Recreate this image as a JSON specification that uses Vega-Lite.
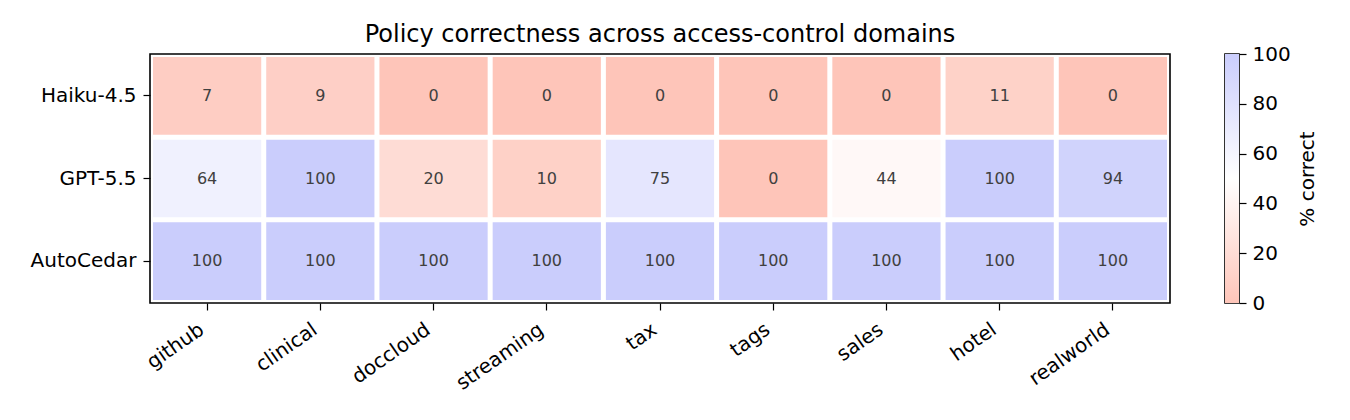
{
  "$schema": "https://vega.github.io/schema/vega-lite/v6.json",
  "background": "white",
  "padding": {"left": 29, "top": 22, "right": 5, "bottom": 5},
  "config": {
    "font": "DejaVu Sans",
    "view": {"stroke": "black", "strokeWidth": 1.6},
    "axis": {
      "domain": false,
      "grid": false,
      "tickColor": "black",
      "tickSize": 7,
      "tickWidth": 1.2,
      "labelColor": "black",
      "labelFontSize": 20,
      "labelFont": "DejaVu Sans",
      "titleFont": "DejaVu Sans",
      "titleColor": "black"
    }
  },
  "datasets": {
    "cells": [
      {"model": "Haiku-4.5", "domain": "github", "value": 7},
      {"model": "Haiku-4.5", "domain": "clinical", "value": 9},
      {"model": "Haiku-4.5", "domain": "doccloud", "value": 0},
      {"model": "Haiku-4.5", "domain": "streaming", "value": 0},
      {"model": "Haiku-4.5", "domain": "tax", "value": 0},
      {"model": "Haiku-4.5", "domain": "tags", "value": 0},
      {"model": "Haiku-4.5", "domain": "sales", "value": 0},
      {"model": "Haiku-4.5", "domain": "hotel", "value": 11},
      {"model": "Haiku-4.5", "domain": "realworld", "value": 0},
      {"model": "GPT-5.5", "domain": "github", "value": 64},
      {"model": "GPT-5.5", "domain": "clinical", "value": 100},
      {"model": "GPT-5.5", "domain": "doccloud", "value": 20},
      {"model": "GPT-5.5", "domain": "streaming", "value": 10},
      {"model": "GPT-5.5", "domain": "tax", "value": 75},
      {"model": "GPT-5.5", "domain": "tags", "value": 0},
      {"model": "GPT-5.5", "domain": "sales", "value": 44},
      {"model": "GPT-5.5", "domain": "hotel", "value": 100},
      {"model": "GPT-5.5", "domain": "realworld", "value": 94},
      {"model": "AutoCedar", "domain": "github", "value": 100},
      {"model": "AutoCedar", "domain": "clinical", "value": 100},
      {"model": "AutoCedar", "domain": "doccloud", "value": 100},
      {"model": "AutoCedar", "domain": "streaming", "value": 100},
      {"model": "AutoCedar", "domain": "tax", "value": 100},
      {"model": "AutoCedar", "domain": "tags", "value": 100},
      {"model": "AutoCedar", "domain": "sales", "value": 100},
      {"model": "AutoCedar", "domain": "hotel", "value": 100},
      {"model": "AutoCedar", "domain": "realworld", "value": 100}
    ],
    "bar": [{"lo": 0, "hi": 100}]
  },
  "spacing": 55,
  "bounds": "flush",
  "hconcat": [
    {
      "width": 1020,
      "height": 249,
      "title": {
        "text": "Policy correctness across access-control domains",
        "fontSize": 24,
        "fontWeight": "normal",
        "offset": 7,
        "anchor": "middle",
        "color": "black"
      },
      "data": {"name": "cells"},
      "encoding": {
        "x": {
          "field": "domain",
          "type": "nominal",
          "sort": ["github", "clinical", "doccloud", "streaming", "tax", "tags", "sales", "hotel", "realworld"],
          "scale": {"paddingInner": 0.0442, "paddingOuter": 0.0265},
          "axis": {
            "title": null,
            "labelAngle": -35,
            "labelAlign": "right",
            "labelBaseline": "top",
            "labelPadding": 9,
            "labelOffset": -11
          }
        },
        "y": {
          "field": "model",
          "type": "nominal",
          "sort": ["Haiku-4.5", "GPT-5.5", "AutoCedar"],
          "scale": {"paddingInner": 0.0605, "paddingOuter": 0.0363},
          "axis": {"title": null, "labelPadding": 7}
        }
      },
      "layer": [
        {
          "mark": {"type": "rect"},
          "encoding": {
            "color": {
              "field": "value",
              "type": "quantitative",
              "scale": {
                "domain": [0, 50, 100],
                "range": ["#fec5b9", "#ffffff", "#cacdfc"],
                "interpolate": "rgb"
              },
              "legend": null
            }
          }
        },
        {
          "mark": {"type": "text", "fontSize": 16, "color": "#404040"},
          "encoding": {"text": {"field": "value", "type": "quantitative"}}
        }
      ]
    },
    {
      "width": 14,
      "height": 249,
      "data": {"name": "bar"},
      "mark": {
        "type": "rect",
        "color": {
          "gradient": "linear",
          "x1": 0, "y1": 1, "x2": 0, "y2": 0,
          "stops": [
            {"offset": 0, "color": "#fec5b9"},
            {"offset": 0.5, "color": "#ffffff"},
            {"offset": 1, "color": "#cacdfc"}
          ]
        }
      },
      "encoding": {
        "y": {
          "field": "lo",
          "type": "quantitative",
          "scale": {"domain": [0, 100], "nice": false},
          "axis": {
            "orient": "right",
            "values": [0, 20, 40, 60, 80, 100],
            "title": "% correct",
            "titleFontSize": 20,
            "titleFontWeight": "normal",
            "titleAngle": 270,
            "titlePadding": 27,
            "labelPadding": 6
          }
        },
        "y2": {"field": "hi"}
      }
    }
  ]
}
